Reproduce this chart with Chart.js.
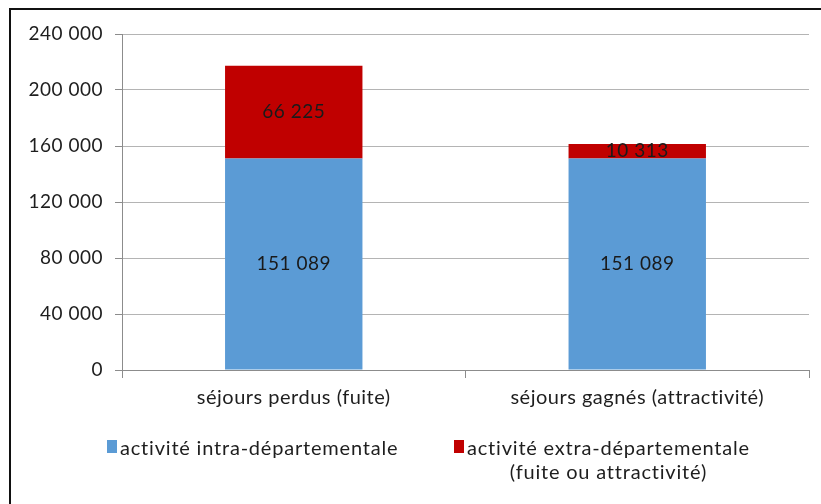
<!DOCTYPE html>
<html>
<head>
<meta charset="utf-8">
<script src="https://cdn.jsdelivr.net/npm/chart.js@4.4.1/dist/chart.umd.min.js"></script>
<style>
  html, body { margin: 0; padding: 0; background: #fff; }
  #wrap { position: relative; width: 821px; height: 504px; overflow: hidden; }
  #frame { position: absolute; left: 9px; top: 8px; width: 900px; height: 600px;
           border-left: 2px solid #111; border-top: 2px solid #111; }
  #chart { position: absolute; left: 0; top: 0; }
  .leg { position: absolute; font-family: Lato, sans-serif; font-size: 20px; color: #1e1e1e;
         line-height: 24px; letter-spacing: 0.8px; }
  .leg .sw { position: absolute; left: 0; top: 5px; width: 10px; height: 13px; }
  .leg .txt { margin-left: 13px; text-align: center; }
</style>
</head>
<body>
<div id="wrap">
  <div id="frame"></div>
  <canvas id="chart" width="821" height="504"></canvas>
  <div class="leg" style="left:107px; top:435px;">
    <span class="sw" style="background:#5B9BD5"></span>
    <div class="txt">activité intra-départementale</div>
  </div>
  <div class="leg" style="left:454px; top:435px;">
    <span class="sw" style="background:#C00000"></span>
    <div class="txt">activité extra-départementale<br>(fuite ou attractivité)</div>
  </div>
</div>
<script>
var categories = ["séjours perdus (fuite)", "séjours gagnés (attractivité)"];
var intraDep = [151089, 151089];
var extraDep = [66225, 10313];
var yTicks = [0, 40000, 80000, 120000, 160000, 200000, 240000];

function fmt(v) {
  return String(v).replace(/\B(?=(\d{3})+(?!\d))/g, " ");
}

// slightly looser text spacing for everything drawn on the canvas
var spacing = {
  id: 'spacing',
  beforeUpdate: function(chart) { chart.ctx.letterSpacing = '0.5px'; },
  beforeDraw: function(chart) { chart.ctx.letterSpacing = '0.5px'; }
};

// values written in the middle of each stacked segment
var barValues = {
  id: 'barValues',
  afterDatasetsDraw: function(chart) {
    var ctx = chart.ctx;
    ctx.save();
    ctx.font = '19px Lato, sans-serif';
    ctx.fillStyle = '#1a1a1a';
    ctx.textAlign = 'center';
    ctx.textBaseline = 'middle';
    chart.data.datasets.forEach(function(ds, i) {
      chart.getDatasetMeta(i).data.forEach(function(bar, j) {
        var y = (bar.y + bar.base) / 2;
        ctx.fillText(fmt(ds.data[j]), bar.x, y);
      });
    });
    ctx.restore();
  }
};

new Chart(document.getElementById('chart').getContext('2d'), {
  type: 'bar',
  data: {
    labels: categories,
    datasets: [
      { label: "activité intra-départementale", data: intraDep, backgroundColor: "#5B9BD5",
        categoryPercentage: 1, barPercentage: 0.4 },
      { label: "activité extra-départementale (fuite ou attractivité)", data: extraDep, backgroundColor: "#C00000",
        categoryPercentage: 1, barPercentage: 0.4 }
    ]
  },
  options: {
    responsive: false,
    animation: false,
    layout: { padding: { top: 34, right: 12, left: 0, bottom: 0 } },
    plugins: { legend: { display: false }, tooltip: { enabled: false } },
    scales: {
      x: {
        stacked: true,
        grid: { drawOnChartArea: false, drawTicks: true, tickLength: 8, tickColor: '#8c8c8c', offset: true },
        border: { color: '#8c8c8c', width: 1 },
        ticks: { font: { family: 'Lato', size: 20 }, color: '#1e1e1e', padding: 8, maxRotation: 0 },
        afterFit: function(s) { s.height = 134; }
      },
      y: {
        stacked: true,
        min: 0, max: 240000,
        afterBuildTicks: function(s) { s.ticks = yTicks.map(function(v) { return { value: v }; }); },
        grid: { color: '#b4b4b4', tickColor: '#8c8c8c', tickLength: 7 },
        border: { color: '#8c8c8c', width: 1 },
        ticks: { font: { family: 'Lato', size: 19 }, color: '#1e1e1e', padding: 12,
                 callback: function(v) { return fmt(v); } },
        afterFit: function(s) { s.width = 122; }
      }
    }
  },
  plugins: [spacing, barValues]
});
</script>
</body>
</html>
